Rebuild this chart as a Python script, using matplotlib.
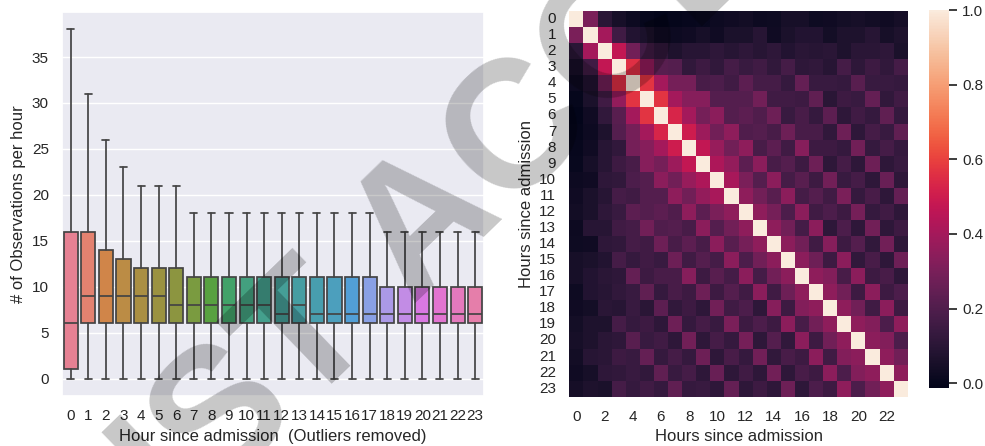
import numpy as np
import matplotlib
matplotlib.use("Agg")
import matplotlib.pyplot as plt
import seaborn as sns

# per-hour box statistics (outliers removed)
hours = list(range(24))
q1 = [1, 6, 6, 6, 6, 6, 6, 6, 6, 6, 6, 6, 6, 6, 6, 6, 6, 6, 6, 6, 6, 6, 6, 6]
medians = [6, 9, 9, 9, 9, 9, 8, 8, 8, 8, 8, 8, 7, 8, 7, 7, 7, 7, 7, 7, 7, 7, 7, 7]
q3 = [16, 16, 14, 13, 12, 12, 12, 11, 11, 11, 11, 11, 11, 11, 11, 11, 11, 11,
      10, 10, 10, 10, 10, 10]
whisk_lo = [0] * 24
whisk_hi = [38, 31, 26, 23, 21, 21, 21, 18, 18, 18, 18, 18, 18, 18, 18, 18, 18, 18,
            16, 16, 16, 16, 16, 16]

# hour-to-hour correlation, upper triangle (row i holds columns i+1..23)
corr_upper = [
    [0.30, 0.10, 0.05, 0.02, 0.00, -0.013, -0.005, 0.005, 0.01, 0.02, 0.03,
     0.035, 0.02, 0.025, 0.05, 0.05, 0.025, 0.03, 0.04, 0.05, 0.035, 0.03, 0.045],
    [0.40, 0.16, 0.08, 0.06, 0.03, 0.02, 0.03, 0.05, 0.03, 0.06, 0.06, 0.09,
     0.03, 0.06, 0.08, 0.08, 0.04, 0.07, 0.07, 0.09, 0.05, 0.07],
    [0.47, 0.28, 0.16, 0.12, 0.07, 0.09, 0.09, 0.11, 0.09, 0.11, 0.09, 0.11,
     0.08, 0.10, 0.09, 0.10, 0.07, 0.10, 0.10, 0.11, 0.06],
    [0.56, 0.36, 0.22, 0.21, 0.12, 0.15, 0.12, 0.17, 0.14, 0.16, 0.12, 0.17,
     0.11, 0.12, 0.09, 0.17, 0.11, 0.15, 0.12, 0.17],
    [0.57, 0.40, 0.29, 0.29, 0.18, 0.19, 0.16, 0.23, 0.17, 0.17, 0.13, 0.25,
     0.14, 0.14, 0.13, 0.22, 0.14, 0.14, 0.13],
    [0.57, 0.40, 0.33, 0.33, 0.21, 0.21, 0.21, 0.28, 0.16, 0.16, 0.15, 0.24,
     0.10, 0.15, 0.14, 0.25, 0.12, 0.16],
    [0.53, 0.40, 0.29, 0.34, 0.21, 0.23, 0.20, 0.27, 0.14, 0.18, 0.13, 0.23,
     0.11, 0.16, 0.13, 0.24, 0.13],
    [0.50, 0.38, 0.28, 0.35, 0.20, 0.21, 0.18, 0.27, 0.18, 0.18, 0.12, 0.27,
     0.11, 0.17, 0.14, 0.24],
    [0.47, 0.37, 0.28, 0.35, 0.18, 0.23, 0.16, 0.33, 0.15, 0.15, 0.13, 0.28,
     0.13, 0.17, 0.13],
    [0.42, 0.36, 0.23, 0.34, 0.18, 0.21, 0.15, 0.27, 0.11, 0.17, 0.11, 0.27,
     0.11, 0.14],
    [0.41, 0.30, 0.21, 0.34, 0.17, 0.22, 0.15, 0.28, 0.14, 0.17, 0.11, 0.26, 0.11],
    [0.35, 0.28, 0.22, 0.34, 0.17, 0.21, 0.16, 0.30, 0.13, 0.18, 0.11, 0.25],
    [0.35, 0.29, 0.19, 0.34, 0.16, 0.19, 0.15, 0.29, 0.13, 0.16, 0.11],
    [0.35, 0.28, 0.17, 0.34, 0.11, 0.19, 0.11, 0.28, 0.11, 0.15],
    [0.34, 0.28, 0.16, 0.33, 0.15, 0.21, 0.12, 0.28, 0.11],
    [0.34, 0.27, 0.15, 0.34, 0.12, 0.18, 0.11, 0.27],
    [0.35, 0.32, 0.18, 0.34, 0.15, 0.18, 0.11],
    [0.35, 0.28, 0.15, 0.34, 0.15, 0.19],
    [0.35, 0.28, 0.16, 0.34, 0.15],
    [0.35, 0.32, 0.19, 0.35],
    [0.34, 0.32, 0.19],
    [0.35, 0.28],
    [0.35],
]

sns.set_theme(style="darkgrid")
plt.rcParams["font.family"] = ["Liberation Sans", "DejaVu Sans"]

n = len(hours)
corr = np.eye(n)
for i, row in enumerate(corr_upper):
    for k, val in enumerate(row):
        corr[i, i + 1 + k] = val
        corr[i + 1 + k, i] = val

fig = plt.figure(figsize=(9.85, 4.46), dpi=100)
ax1 = fig.add_axes([0.0629, 0.1121, 0.4284, 0.861])
ax2 = fig.add_axes([0.578, 0.1105, 0.3436, 0.8648])
cax = fig.add_axes([0.9435, 0.130, 0.020, 0.8475])

# boxplot
palette = [sns.desaturate(c, 0.75) for c in sns.color_palette("husl", n)]
stats = []
for h in hours:
    stats.append(dict(med=medians[h], q1=q1[h], q3=q3[h],
                      whislo=whisk_lo[h], whishi=whisk_hi[h], fliers=[]))
line_kw = dict(color="#444444", linewidth=1.25)
bp = ax1.bxp(stats, positions=hours, widths=0.8, capwidths=0.4,
             patch_artist=True, showfliers=False,
             boxprops=dict(edgecolor="#444444", linewidth=1.25),
             medianprops=line_kw, whiskerprops=line_kw, capprops=line_kw)
for box, col in zip(bp["boxes"], palette):
    box.set_facecolor(col)
ax1.set_xlim(-0.5, 23.5)
ax1.set_ylim(-1.9, 39.9)
ax1.set_xticks(hours)
ax1.set_xticklabels([str(h) for h in hours])
ax1.set_yticks(range(0, 36, 5))
ax1.xaxis.grid(False)
ax1.set_xlabel("Hour since admission  (Outliers removed)")
ax1.set_ylabel("# of Observations per hour")

# correlation heatmap
sns.heatmap(corr, ax=ax2, cbar_ax=cax, vmin=-0.013, vmax=1.0,
            xticklabels=2, yticklabels=1)
ax2.set_yticklabels(ax2.get_yticklabels(), rotation=0)
ax2.set_xticklabels(ax2.get_xticklabels(), rotation=0)
ax2.set_xlabel("Hours since admission")
ax2.set_ylabel("Hours since admission")
cax.set_yticks([0.0, 0.2, 0.4, 0.6, 0.8, 1.0])

# watermark
fig.text(0.0508, -0.4731, "JUST ACCEPTED", fontsize=130, fontweight="bold",
         color="black", alpha=0.22, rotation=44, rotation_mode="anchor",
         ha="left", va="baseline", zorder=10)

fig.savefig("out.png", dpi=100)
